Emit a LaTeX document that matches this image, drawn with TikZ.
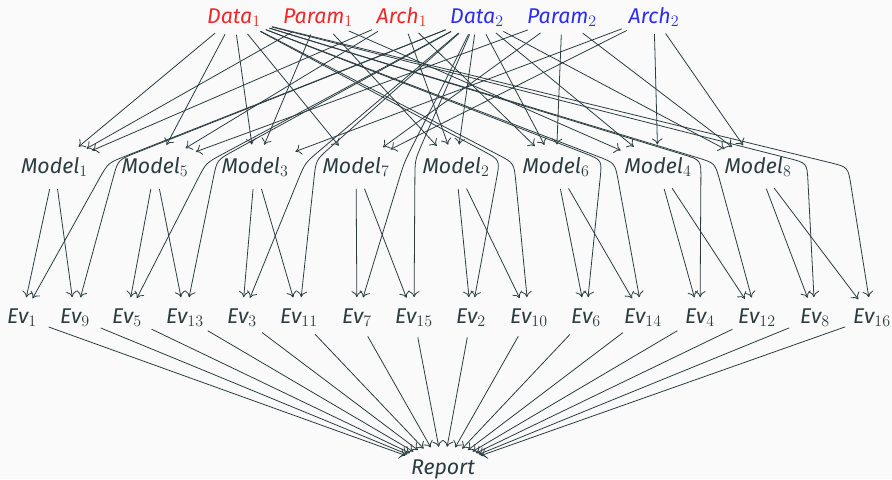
\documentclass[tikz,border=0pt]{standalone}
\usepackage{fontspec}
\newfontfamily\labelfont{Fira Sans}
\DeclareMathSizes{16}{16}{11.5}{8}
\usetikzlibrary{shapes.geometric,arrows.meta,calc}
\definecolor{ink}{HTML}{2B3D41}
\definecolor{paper}{HTML}{FAFAFA}
\definecolor{groupa}{RGB}{240,40,40}
\definecolor{groupb}{RGB}{45,45,245}
\tikzset{
  lbl/.style={shape=ellipse, inner sep=0pt, anchor=base, text=ink,
    font=\labelfont\itshape\fontsize{16}{19}\selectfont},
  srcnode/.style={lbl, minimum width=67.5pt, minimum height=25.5pt},
  mdlnode/.style={lbl, minimum width=82.5pt, minimum height=33pt},
  evnode/.style={lbl, minimum width=45pt, minimum height=30pt},
  rptnode/.style={lbl, minimum width=70.5pt, minimum height=33pt},
  link/.style={draw=ink, line width=0.6pt, -{To[length=4.5pt,width=8pt]}},
}
\begin{document}
\begin{tikzpicture}[x=0.75pt,y=-0.75pt]
\fill[paper] (0,0) rectangle (892,479);
\useasboundingbox (0,0) rectangle (892,479);

% inputs
\node[srcnode,text=groupa] (D1) at (234,23) {Data$_1$};
\node[srcnode,text=groupa] (P1) at (318,23) {Param$_1$};
\node[srcnode,text=groupa] (A1) at (402,23) {Arch$_1$};
\node[srcnode,text=groupb] (D2) at (477,23) {Data$_2$};
\node[srcnode,text=groupb] (P2) at (562,23) {Param$_2$};
\node[srcnode,text=groupb] (A2) at (654,23) {Arch$_2$};

% models
\foreach \k/\x in {1/54.5,5/155,3/255,7/356,2/456,6/556,4/658,8/758}
  \node[mdlnode] (M\k) at (\x,173) {Model$_{\k}$};

% evaluations
\foreach \k/\x in {1/22,9/75,5/127,13/185,3/242,11/299,7/357,15/414,
                   2/471,10/529,6/586,14/643,4/700,12/757,8/815,16/872}
  \node[evnode] (E\k) at (\x,323) {Ev$_{\k}$};

% report
\node[rptnode] (R) at (443,474) {Report};

% inputs feeding each model
\foreach \s/\t in {D1/M1,D1/M3,D1/M5,D1/M7,D2/M2,D2/M4,D2/M6,D2/M8,
                   P1/M1,P1/M2,P1/M3,P1/M4,P2/M5,P2/M6,P2/M7,P2/M8,
                   A1/M1,A1/M2,A1/M5,A1/M6,A2/M3,A2/M4,A2/M7,A2/M8}
  \draw[link] (\s) -- (\t);

% each model is evaluated twice
\foreach \k [evaluate=\k as \j using int(\k+8)] in {1,...,8} {
  \draw[link] (M\k) -- (E\k);
  \draw[link] (M\k) -- (E\j);
}

% held-out data routed between the models to the evaluations
\foreach \s/\e/\vx/\vy in {D2/E1/108/163, D2/E9/118/160,
                           D2/E5/206/163, D2/E13/217/160,
                           D2/E3/305/163, D2/E11/316/160,
                           D2/E7/404/163, D2/E15/415/160,
                           D1/E2/500/160, D1/E10/514/163,
                           D1/E6/602/160, D1/E14/615/163,
                           D1/E4/701/160, D1/E12/715/163,
                           D1/E8/807/163, D1/E16/848/167} {
  \coordinate (bend\e) at (\vx,\vy);
  \draw[link] (\s) -- ($(bend\e)!14pt!(\s)$) .. controls (bend\e) ..
    ($(bend\e)!14pt!(\e)$) -- (\e);
}

% all evaluations go into the report
\foreach \k in {1,...,16}
  \draw[link] (E\k) -- (R);
\end{tikzpicture}
\end{document}
